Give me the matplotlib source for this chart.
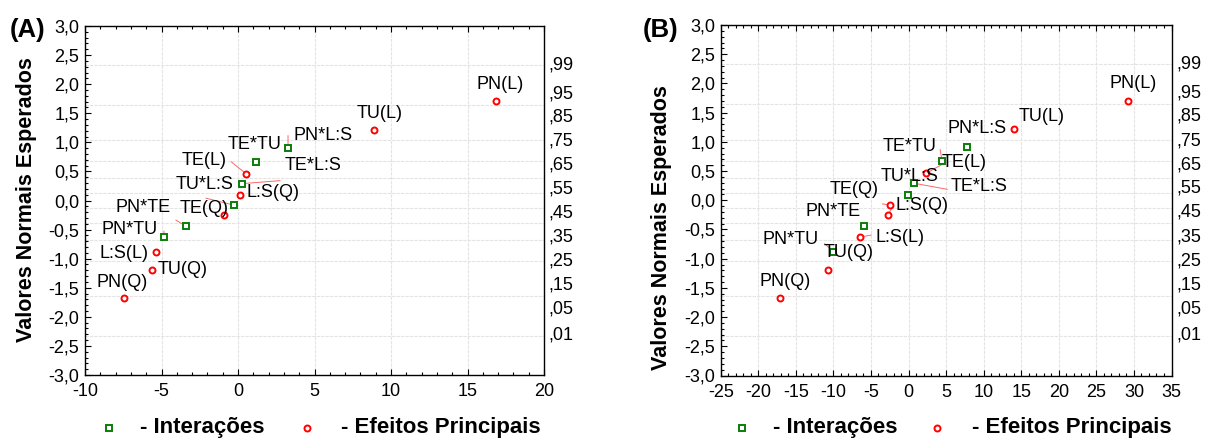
import matplotlib
matplotlib.use('Agg')
import matplotlib.pyplot as plt
from matplotlib.lines import Line2D
from matplotlib.ticker import MultipleLocator, FixedLocator
from statistics import NormalDist

plt.rcParams['font.family'] = ['Liberation Sans', 'DejaVu Sans']

# ---------------- data ----------------
expected_normal = [-1.68, -1.19, -0.88, -0.63, -0.44, -0.25, -0.08,
                   0.09, 0.29, 0.46, 0.665, 0.91, 1.22, 1.705]

labels_A = ['PN(Q)', 'TU(Q)', 'L:S(L)', 'PN*TU', 'PN*TE', 'TE(Q)', 'TU*L:S',
            'L:S(Q)', 'TE*L:S', 'TE(L)', 'TE*TU', 'PN*L:S', 'TU(L)', 'PN(L)']
effects_A = [-7.45, -5.64, -5.36, -4.84, -3.41, -0.93, -0.27,
             0.14, 0.27, 0.53, 1.19, 3.27, 8.88, 16.86]

labels_B = ['PN(Q)', 'TU(Q)', 'PN*TU', 'L:S(L)', 'PN*TE', 'L:S(Q)', 'TE(Q)',
            'TU*L:S', 'TE*L:S', 'TE(L)', 'TE*TU', 'PN*L:S', 'TU(L)', 'PN(L)']
effects_B = [-17.1, -10.73, -9.99, -6.43, -5.89, -2.73, -2.43,
             -0.07, 0.77, 2.33, 4.47, 7.8, 14.0, 29.2]

prob_values = [0.01, 0.05, 0.15, 0.25, 0.35, 0.45, 0.55, 0.65, 0.75, 0.85, 0.95, 0.99]
prob_labels = [',01', ',05', ',15', ',25', ',35', ',45', ',55', ',65', ',75', ',85', ',95', ',99']

y_tick_values = [-3.0, -2.5, -2.0, -1.5, -1.0, -0.5, 0.0, 0.5, 1.0, 1.5, 2.0, 2.5, 3.0]
y_tick_labels = ['-3,0', '-2,5', '-2,0', '-1,5', '-1,0', '-0,5', '0,0',
                 '0,5', '1,0', '1,5', '2,0', '2,5', '3,0']
x_ticks_A = [-10, -5, 0, 5, 10, 15, 20]
x_ticks_B = [-25, -20, -15, -10, -5, 0, 5, 10, 15, 20, 25, 30, 35]

legend_labels = ['- Interações', '- Efeitos Principais']
panel_titles = ['(A)', '(B)']
y_title = 'Valores Normais Esperados'

# ---------------- layout / style ----------------
W, H = 1210, 438
# where Statistica drew the probability labels (y in data units)
prob_label_pos = [-2.28, -1.835, -1.423, -1.010, -0.593, -0.175,
                  0.238, 0.640, 1.053, 1.470, 1.871, 2.359]

# label offsets (pixels, text centre relative to point) and connector starts
offs_A = {
    'PN(Q)': (-2, 16), 'TU(Q)': (31, 0), 'L:S(L)': (-32, -1.5), 'PN*TU': (-34, 8),
    'PN*TE': (-43, 19), 'TE(Q)': (-20, 7), 'TU*L:S': (-29, 21), 'L:S(Q)': (33, 3),
    'TE*L:S': (71, 18), 'TE(L)': (-42, 13), 'TE*TU': (-2, 17), 'PN*L:S': (35, 12.5),
    'TU(L)': (6, 16.5), 'PN(L)': (4, 17)}
conn_A = {'PN*TU': (0, 6), 'PN*TE': (-10, 6), 'TU*L:S': (-28, 7),
          'TE*L:S': (38, 3), 'TE(L)': (-15, 12), 'PN*L:S': (0, 12)}
offs_B = {
    'PN(Q)': (5, 17), 'TU(Q)': (21, 17), 'PN*TU': (-43, 12), 'L:S(L)': (40, 0),
    'PN*TE': (-31, 14), 'L:S(Q)': (34, 9), 'TE(Q)': (-36, 15), 'TU*L:S': (2, 18),
    'TE*L:S': (65, -3.5), 'TE(L)': (38, 11), 'TE*TU': (-33, 15), 'PN*L:S': (10, 19),
    'TU(L)': (28, 12), 'PN(L)': (5, 17)}
conn_B = {'PN*TU': (-9, 8), 'L:S(L)': (11, 2), 'L:S(Q)': (4, 7), 'TE(Q)': (-8, 1),
          'TE*L:S': (33, -6), 'TE(L)': (16, 9), 'TE*TU': (-2, 12)}

GREEN = '#0b7d0b'
RED = '#ff0000'
GRID = '#e4e4e4'


def fx(x):
    return x / W


def fy(y):
    return 1 - y / H


fig = plt.figure(figsize=(W / 100, H / 100), dpi=100)

panels = [
    dict(rect=[fx(85), fy(375), (544 - 85) / W, (375 - 26) / H], xlim=(-10, 20),
         xticks=x_ticks_A, labels=labels_A, effects=effects_A, offs=offs_A, conn=conn_A,
         title_xy=(28, 30), ylab_xy=(27, 200), leg=(109, 140, 307, 341)),
    dict(rect=[fx(720.7), fy(375.5), (1171.5 - 720.7) / W, (375.5 - 25) / H], xlim=(-25, 35),
         xticks=x_ticks_B, labels=labels_B, effects=effects_B, offs=offs_B, conn=conn_B,
         title_xy=(661, 30), ylab_xy=(661, 228), leg=(742, 773, 937, 972)),
]

for p, title in zip(panels, panel_titles):
    ax = fig.add_axes(p['rect'])
    ax.set_xlim(*p['xlim'])
    ax.set_ylim(-3, 3)
    ax.set_facecolor('white')

    # grid: vertical at major x ticks, horizontal at normal quantiles of probabilities
    for xv in p['xticks'][1:-1]:
        ax.axvline(xv, color=GRID, lw=0.8, ls=(0, (3, 1)), zorder=0)
    for pv in prob_values:
        ax.axhline(NormalDist().inv_cdf(pv), color=GRID, lw=0.8, ls=(0, (3, 1)), zorder=0)

    ax.xaxis.set_major_locator(FixedLocator(p['xticks']))
    ax.xaxis.set_minor_locator(MultipleLocator(1))
    ax.set_xticklabels([str(v) for v in p['xticks']])
    ax.yaxis.set_major_locator(FixedLocator(y_tick_values))
    ax.yaxis.set_minor_locator(MultipleLocator(0.1))
    ax.set_yticklabels(y_tick_labels)
    ax.tick_params(which='both', direction='in', top=True, right=True,
                   width=0.8, color='black', labelsize=13)
    ax.tick_params(which='major', length=4)
    ax.tick_params(which='minor', length=2.5)
    ax.tick_params(axis='x', pad=6)
    ax.tick_params(axis='y', pad=4)
    for s in ax.spines.values():
        s.set_linewidth(1.0)
        s.set_color('black')

    # probability labels on right
    ax2 = ax.twinx()
    ax2.set_ylim(-3, 3)
    ax2.yaxis.set_major_locator(FixedLocator(prob_label_pos))
    ax2.set_yticklabels(prob_labels)
    ax2.tick_params(axis='y', length=0, pad=3.5, labelsize=13)
    ax2.yaxis.set_minor_locator(FixedLocator([]))
    for s in ax2.spines.values():
        s.set_visible(False)

    # points
    for name, ex, ey in zip(p['labels'], p['effects'], expected_normal):
        inter = '*' in name
        ax.plot([ex], [ey], linestyle='none',
                marker='s' if inter else 'o',
                ms=4.0 if inter else 4.3,
                mfc='white', mec=GREEN if inter else RED, mew=1.4, zorder=5)
        dx, dy = p['offs'][name]
        ax.annotate(name, xy=(ex, ey), xytext=(dx, dy), textcoords='offset pixels',
                    ha='center', va='center', fontsize=13, color='black', zorder=6)
        if name in p['conn']:
            cx, cy = p['conn'][name]
            ax.annotate('', xy=(ex, ey), xytext=(cx, cy), textcoords='offset pixels',
                        arrowprops=dict(arrowstyle='-', color='#ff6666', lw=0.7,
                                        shrinkA=0, shrinkB=2), zorder=4)

    # panel title & y label
    fig.text(fx(p['title_xy'][0]), fy(p['title_xy'][1]), title, ha='center', va='center',
             fontsize=18.5, fontweight='bold')
    fig.text(fx(p['ylab_xy'][0]), fy(p['ylab_xy'][1]), y_title, rotation=90,
             ha='center', va='center', fontsize=15.5, fontweight='bold')

    # legend
    gx, gtx, rx, rtx = p['leg']
    ly = 427.5
    fig.add_artist(Line2D([fx(gx)], [fy(ly)], transform=fig.transFigure, linestyle='none',
                          marker='s', ms=4.0, mfc='white', mec=GREEN, mew=1.4))
    fig.add_artist(Line2D([fx(rx)], [fy(ly)], transform=fig.transFigure, linestyle='none',
                          marker='o', ms=4.3, mfc='white', mec=RED, mew=1.4))
    fig.text(fx(gtx), fy(ly), legend_labels[0], ha='left', va='center',
             fontsize=16, fontweight='bold')
    fig.text(fx(rtx), fy(ly), legend_labels[1], ha='left', va='center',
             fontsize=16, fontweight='bold')

fig.savefig('out.png', dpi=100, facecolor='white')
